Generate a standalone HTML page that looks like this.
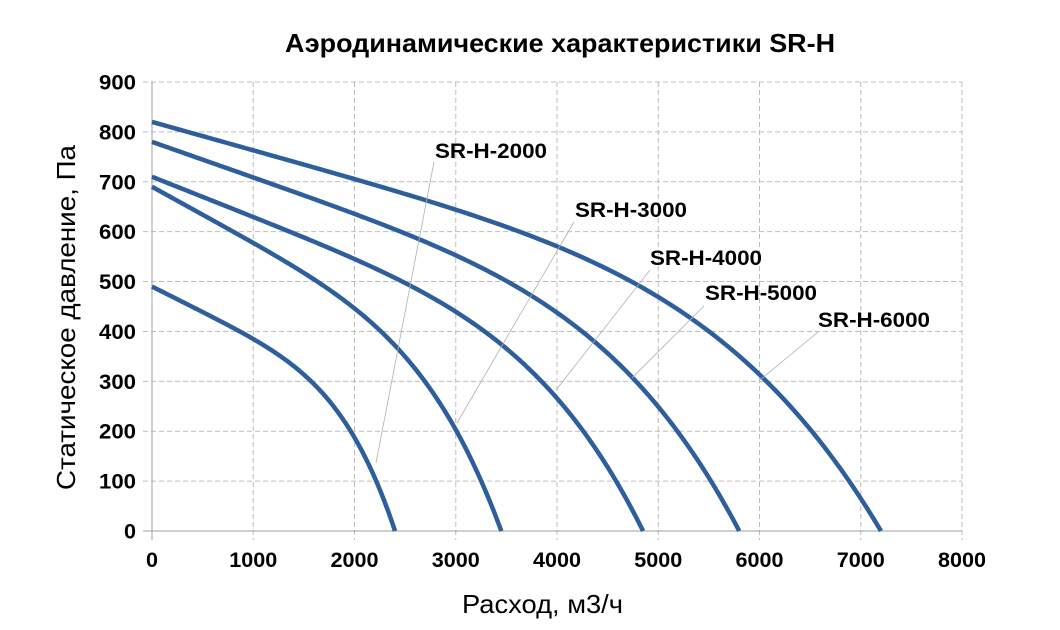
<!DOCTYPE html>
<html><head><meta charset="utf-8"><style>body{margin:0;background:#fff}svg{display:block}text{font-family:"Liberation Sans",sans-serif}</style></head>
<body>
<svg id="s" width="1060" height="630" xmlns="http://www.w3.org/2000/svg">
<text x="285" y="52" font-size="26" font-weight="bold" textLength="550" lengthAdjust="spacingAndGlyphs">Аэродинамические характеристики SR-H</text>
<g id="grid" stroke="#bdbdbd" stroke-dasharray="5,3" stroke-width="1"></g>
<g id="ticks" font-size="21" font-weight="bold"></g>
<g id="curves" fill="none" stroke="#2e5f9c" stroke-width="4.5"></g>
<g stroke="#b0b0b0" stroke-width="0.8">
<line x1="434" y1="162" x2="376" y2="463"/>
<line x1="574" y1="222" x2="457" y2="423"/>
<line x1="650" y1="270" x2="556" y2="390"/>
<line x1="704" y1="306" x2="632" y2="378"/>
<line x1="818" y1="332" x2="760" y2="380"/>
</g>
<g font-size="21" font-weight="bold">
<text x="435" y="158" textLength="112" lengthAdjust="spacingAndGlyphs">SR-H-2000</text>
<text x="575" y="217" textLength="112" lengthAdjust="spacingAndGlyphs">SR-H-3000</text>
<text x="650" y="265" textLength="112" lengthAdjust="spacingAndGlyphs">SR-H-4000</text>
<text x="705" y="300" textLength="112" lengthAdjust="spacingAndGlyphs">SR-H-5000</text>
<text x="818" y="327" textLength="112" lengthAdjust="spacingAndGlyphs">SR-H-6000</text>
</g>
<text x="462" y="613" font-size="26" textLength="161" lengthAdjust="spacingAndGlyphs">Расход, м3/ч</text>
<text transform="translate(75,490) rotate(-90)" font-size="26" textLength="345" lengthAdjust="spacingAndGlyphs">Статическое давление, Па</text>
</svg>
<script>
var X=function(q){return 152+q*0.10125},Y=function(p){return 531-p*0.4989};
var g=document.getElementById('grid'),t=document.getElementById('ticks'),c=document.getElementById('curves'),ns='http://www.w3.org/2000/svg';
function el(p,tag,a,txt){var e=document.createElementNS(ns,tag);for(var k in a)e.setAttribute(k,a[k]);if(txt!=null)e.textContent=txt;p.appendChild(e);}
for(var i=0;i<=8;i++){var x=X(i*1000);el(g,'line',{x1:x,y1:Y(900),x2:x,y2:540});var s=String(i*1000);el(t,'text',{x:x,y:567,'text-anchor':'middle',textLength:i?48:12,lengthAdjust:'spacingAndGlyphs'},s);}
for(var j=0;j<=9;j++){var y=Y(j*100);el(g,'line',{x1:143,y1:y,x2:X(8000),y2:y});el(t,'text',{x:136,y:y+7.5,'text-anchor':'end',textLength:j?37:12,lengthAdjust:'spacingAndGlyphs'},String(j*100));}
el(g,'line',{x1:152,y1:Y(900),x2:152,y2:540,'stroke-dasharray':'none',stroke:'#a0a0a0'});
el(g,'line',{x1:143,y1:531,x2:X(8000),y2:531,'stroke-dasharray':'none',stroke:'#a0a0a0'});
[[490,2400,0.5],[690,3450,0.56],[710,4850,0.55],[780,5800,0.53],[820,7200,0.5]].forEach(function(s){
 var a=s[2],d='';for(var k=0;k<=200;k++){var q=k/200;var p=s[0]*(1-a*q-(1-a)*Math.pow(q,5));d+=(k?'L':'M')+X(q*s[1]).toFixed(2)+','+Y(p).toFixed(2);}
 el(c,'path',{d:d});});
</script>
</body></html>
